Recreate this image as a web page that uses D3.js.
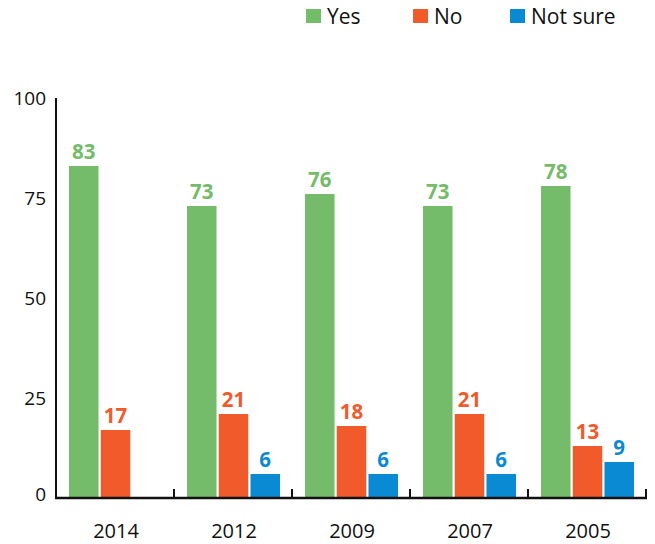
<!DOCTYPE html>
<html><head><meta charset="utf-8">
<script src="https://cdn.jsdelivr.net/npm/d3@7"></script>
<style>body{margin:0;background:#fff}svg{display:block}text{font-family:"Open Sans",Lato,sans-serif}</style>
</head><body><svg id="c" width="655" height="544"></svg>
<script>
const categories = ["2014","2012","2009","2007","2005"];
const seriesNames = ["Yes","No","Not sure"];
const yesValues = [83,73,76,73,78];
const noValues = [17,21,18,21,13];
const notSureValues = [0,6,6,6,9];
const yTicks = [0,25,50,75,100];
const colors = ["#74bb6a","#f15a2b","#0a8ad2"];

(function(){
const series = [yesValues, noValues, notSureValues];
const svg = d3.select("#c");
const L = 56, R = 646, T = 98, B = 498;
const x0 = d3.scaleBand().domain(categories).range([L, R]).paddingInner(0).paddingOuter(0);
const x1 = d3.scaleBand().domain(seriesNames).range([13, 13 + 29*3 + 6]).paddingInner(0.07).paddingOuter(0);
const y = d3.scaleLinear().domain([0,100]).range([B, T]);

categories.forEach((c, i) => {
  const g = svg.append("g").attr("transform", `translate(${x0(c)},0)`);
  seriesNames.forEach((s, j) => {
    const v = series[j][i];
    const h = Math.max(1, B - y(v));
    g.append("rect").attr("x", x1(s)).attr("width", x1.bandwidth())
      .attr("y", B - h).attr("height", h).attr("fill", colors[j]);
    if (v > 0) {
      g.append("text").attr("x", x1(s) + x1.bandwidth()/2).attr("y", y(v) - 7)
        .attr("text-anchor","middle").attr("font-size",20.5).attr("font-weight","bold")
        .attr("fill", colors[j]).text(v);
    }
  });
});

svg.append("line").attr("x1",L).attr("x2",L).attr("y1",T).attr("y2",B+1)
  .attr("stroke","#111").attr("stroke-width",2);
svg.append("line").attr("x1",L-1).attr("x2",R+1).attr("y1",B).attr("y2",B)
  .attr("stroke","#111").attr("stroke-width",2.5);
categories.forEach(c => {
  const xe = x0(c) + x0.bandwidth();
  svg.append("line").attr("x1",xe).attr("x2",xe).attr("y1",B).attr("y2",B-9)
    .attr("stroke","#111").attr("stroke-width",2);
});
yTicks.forEach(t => {
  svg.append("text").attr("x",46).attr("y",y(t) + 2 - (t===0?4:0)).attr("text-anchor","end")
    .attr("font-size",19).attr("fill","#111").attr("dominant-baseline","middle").text(t);
});
categories.forEach(c => {
  svg.append("text").attr("x", x0(c) + x0.bandwidth()/2 + 1).attr("y", 538)
    .attr("text-anchor","middle").attr("font-size",20).attr("fill","#111").text(c);
});
const legX = [306, 413, 510];
seriesNames.forEach((s, j) => {
  svg.append("rect").attr("x", legX[j]).attr("y", 9).attr("width",15).attr("height",14).attr("fill",colors[j]);
  svg.append("text").attr("x", legX[j] + 21).attr("y", 23.5).attr("font-size",21).attr("fill","#111").text(s);
});
})();
</script></body></html>
